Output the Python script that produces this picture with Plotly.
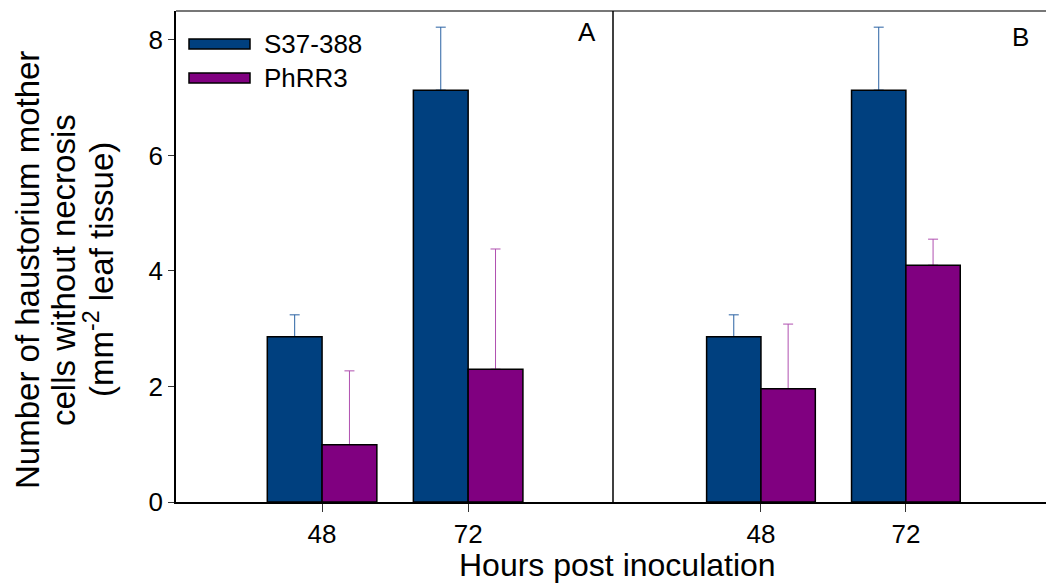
import plotly.graph_objects as go
from plotly.subplots import make_subplots

hours = [48, 72]
tick_labels = ["48", "72"]
series_names = ["S37-388", "PhRR3"]
y_title_lines = ["Number of haustorium mother", "cells without necrosis",
                 "(mm<sup>-2</sup> leaf tissue)"]

# Panel A
a_s37 = [2.86, 7.13]
a_s37_err = [0.38, 1.09]
a_phrr3 = [0.99, 2.30]
a_phrr3_err = [1.28, 2.08]

# Panel B
b_s37 = [2.86, 7.13]
b_s37_err = [0.38, 1.09]
b_phrr3 = [1.96, 4.10]
b_phrr3_err = [1.12, 0.45]

BLUE = "#00407f"
PURPLE = "#800080"
BLUE_ERR = "#2a62a3"
PURPLE_ERR = "#b050b0"
FONT = "Liberation Sans, Arial, sans-serif"

W, H = 1046, 585
L, T, B = 176, 11, 83
PW, PH = W - L, H - T - B
split = 437 / PW


def px(x):
    return (x - L) / PW


def py(y):
    return (H - B - y) / PH


fig = make_subplots(rows=1, cols=2, shared_yaxes=True, horizontal_spacing=0)

panels = [
    (1, a_s37, a_s37_err, a_phrr3, a_phrr3_err),
    (2, b_s37, b_s37_err, b_phrr3, b_phrr3_err),
]
for col, s, se, p, pe in panels:
    for vals, errs, name, color, ecolor, off in [
        (s, se, series_names[0], BLUE, BLUE_ERR, -9),
        (p, pe, series_names[1], PURPLE, PURPLE_ERR, 0),
    ]:
        # error bars carried by a transparent bar drawn underneath
        fig.add_trace(go.Bar(
            x=hours, y=vals, width=9, offset=off, name=name,
            marker=dict(color="rgba(0,0,0,0)", line=dict(width=0)),
            error_y=dict(type="data", array=errs, symmetric=False,
                         arrayminus=[0] * len(errs),
                         color=ecolor, thickness=1, width=5),
            showlegend=False, hoverinfo="skip"), row=1, col=col)
    for vals, name, color, off in [
        (s, series_names[0], BLUE, -9),
        (p, series_names[1], PURPLE, 0),
    ]:
        fig.add_trace(go.Bar(
            x=hours, y=vals, width=9, offset=off, name=name,
            marker=dict(color=color, line=dict(color="black", width=1.5)),
            showlegend=False), row=1, col=col)

xcommon = dict(tickvals=hours, ticktext=tick_labels, ticks="outside", ticklen=8,
               tickcolor="#333", showline=True, linecolor="black", linewidth=1.5,
               showgrid=False, zeroline=False,
               tickfont=dict(size=26, color="black", family=FONT))
fig.update_xaxes(**xcommon)

# legend drawn as wide swatches + labels
legend_shapes = []
legend_annots = []
for i, (name, color) in enumerate(zip(series_names, [BLUE, PURPLE])):
    y0 = 39 + i * 34
    legend_shapes.append(dict(type="rect", xref="paper", yref="paper",
                              x0=px(189), x1=px(250), y0=py(y0 + 10), y1=py(y0),
                              fillcolor=color, line=dict(color="black", width=1.5)))
    legend_annots.append(dict(text=name, xref="paper", yref="paper",
                              x=px(262), y=py(y0 + 5), xanchor="left", yanchor="middle",
                              showarrow=False,
                              font=dict(size=26, color="black", family=FONT)))

title_annots = []
for xc, line in zip([27, 63, 99], y_title_lines):
    title_annots.append(dict(text=line, xref="paper", yref="paper", x=px(xc), y=py(270),
                             xanchor="center", yanchor="middle", textangle=-90,
                             showarrow=False,
                             font=dict(size=33, color="black", family=FONT)))

fig.update_layout(
    xaxis=dict(domain=[0, split], range=[24, 95.8]),
    xaxis2=dict(domain=[split, 1], range=[23.5, 95.2]),
    yaxis=dict(range=[0, 8.5], tickvals=[0, 2, 4, 6, 8], ticks="outside", ticklen=6,
               tickcolor="#333", showline=True, linecolor="black", linewidth=1.5,
               showgrid=False, zeroline=False,
               tickfont=dict(size=26, color="black", family=FONT)),
    yaxis2=dict(range=[0, 8.5], showgrid=False, zeroline=False, showline=False, ticks=""),
    barmode="overlay",
    plot_bgcolor="white",
    paper_bgcolor="white",
    width=W, height=H,
    margin=dict(l=L, r=0, t=T, b=B),
    showlegend=False,
    shapes=[
        dict(type="line", xref="paper", yref="paper", x0=0, x1=1, y0=1, y1=1,
             line=dict(color="#777", width=2)),
        dict(type="line", xref="paper", yref="paper", x0=split, x1=split, y0=0, y1=1,
             line=dict(color="black", width=1.5)),
    ] + legend_shapes,
    annotations=[
        dict(text="Hours post inoculation", xref="paper", yref="paper", x=px(617), y=py(565),
             xanchor="center", yanchor="middle", showarrow=False,
             font=dict(size=32, color="black", family=FONT)),
        dict(text="A", xref="paper", yref="paper", x=px(598), y=py(32),
             xanchor="right", yanchor="middle", showarrow=False,
             font=dict(size=26, color="black", family=FONT)),
        dict(text="B", xref="paper", yref="paper", x=px(1031), y=py(37),
             xanchor="right", yanchor="middle", showarrow=False,
             font=dict(size=26, color="black", family=FONT)),
    ] + legend_annots + title_annots,
)

fig.write_html("out.html")
